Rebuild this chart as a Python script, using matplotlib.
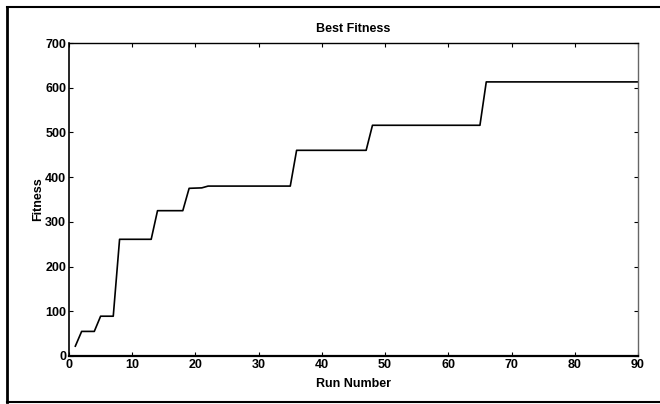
import matplotlib
matplotlib.use("Agg")
import matplotlib.pyplot as plt

# Breakpoints of the best-fitness curve (run number, fitness)
run_number = [1, 2, 4, 5, 7, 8, 13, 14, 18, 19, 21, 22, 35, 36, 47, 48, 65, 66, 90]
fitness = [22, 55, 55, 89, 89, 261, 261, 325, 325, 375, 376, 380, 380, 460, 460, 516, 516, 613, 613]

x_ticks = [0, 10, 20, 30, 40, 50, 60, 70, 80, 90]
y_ticks = [0, 100, 200, 300, 400, 500, 600, 700]

plt.rcParams['font.family'] = ['Liberation Sans', 'DejaVu Sans']
plt.rcParams['font.weight'] = 'bold'

fig = plt.figure(figsize=(6.6, 4.04), dpi=100)
ax = fig.add_axes([69/660, 1-356/404, (638-69)/660, (356-43)/404])

ax.plot(run_number, fitness, color='black', linewidth=1.2)

ax.set_xlim(0, 90)
ax.set_ylim(0, 700)
ax.set_xticks(x_ticks)
ax.set_yticks(y_ticks)
ax.tick_params(direction='in', top=True, right=True, length=3, width=0.8,
               labelsize=9, pad=2)
for lbl in ax.get_xticklabels() + ax.get_yticklabels():
    lbl.set_fontweight('bold')
for s in ax.spines.values():
    s.set_linewidth(1.0)
ax.spines['bottom'].set_linewidth(1.6)
ax.spines['left'].set_linewidth(1.2)
ax.spines['right'].set_color('#666666')

ax.set_title('Best Fitness', fontsize=9, fontweight='bold', pad=8)
ax.set_xlabel('Run Number', fontsize=9, fontweight='bold', labelpad=5)
ax.set_ylabel('Fitness', fontsize=9, fontweight='bold', labelpad=1)

# outer scanned frame
fig.add_artist(plt.Line2D([7/660, 7/660], [1-402/404, 1-7/404], transform=fig.transFigure,
                          color='black', linewidth=2.0))
fig.add_artist(plt.Line2D([7/660, 1.0], [1-7/404, 1-7/404], transform=fig.transFigure,
                          color='black', linewidth=1.5))
fig.add_artist(plt.Line2D([7/660, 1.0], [1-402/404, 1-402/404], transform=fig.transFigure,
                          color='black', linewidth=1.5))

fig.savefig('out.png', dpi=100)
